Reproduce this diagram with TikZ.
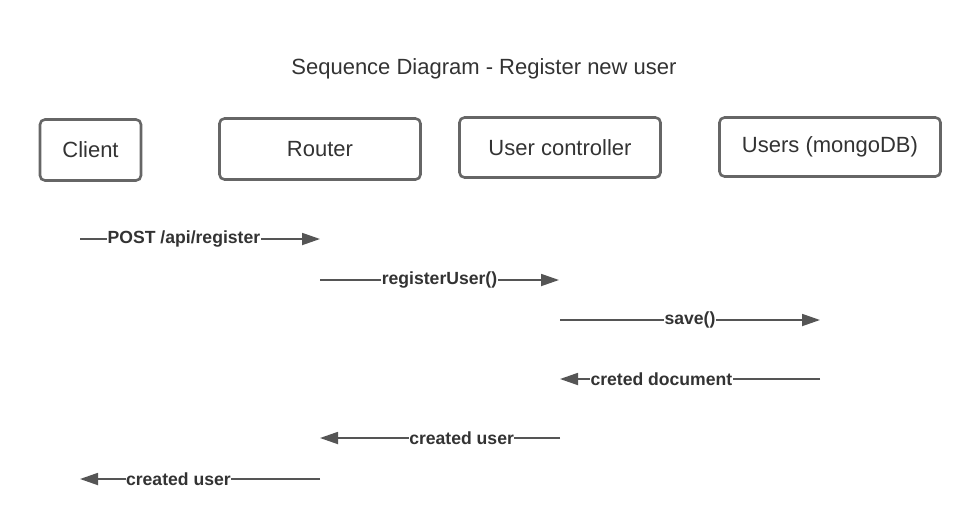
\documentclass[tikz,border=0pt]{standalone}
\usepackage{fontspec}
\setmainfont{Liberation Sans}
\usetikzlibrary{arrows.meta}
\definecolor{boxline}{HTML}{666666}
\definecolor{msgline}{HTML}{555555}
\definecolor{txt}{HTML}{333333}
\tikzset{
  actor/.style={draw=boxline, line width=2.6pt, rounded corners=5pt, fill=white, text=txt,
    font=\fontsize{22}{26}\selectfont, inner sep=0pt},
  msg/.style={draw=msgline, line width=1.8pt, -{Triangle[length=18pt,width=12pt]}},
  lbl/.style={fill=white, text=txt, font=\fontsize{17.6}{20}\selectfont\bfseries, inner sep=0.5pt},
  ttl/.style={text=txt, font=\fontsize{22}{26}\selectfont}
}
\begin{document}
\begin{tikzpicture}[x=1pt,y=-1pt]
\useasboundingbox[fill=white] (0,0) rectangle (980,531);
\node[ttl] (title) at (484,69) {Sequence Diagram - Register new user};
\node[actor, minimum width=101pt, minimum height=61pt] (client) at (90.5,150) {Client};
\node[actor, minimum width=201pt, minimum height=61pt] (router) at (320,149) {Router};
\node[actor, minimum width=201pt, minimum height=60pt] (ctrl) at (560,147.5) {User controller};
\node[actor, minimum width=221pt, minimum height=59pt] (users) at (830,147) {Users (mongoDB)};
% message end points
\coordinate (a1) at (80,239);  \coordinate (b1) at (320,239);
\coordinate (a2) at (320,280); \coordinate (b2) at (559,280);
\coordinate (a3) at (560,320); \coordinate (b3) at (820,320);
\coordinate (a4) at (820,379); \coordinate (b4) at (560,379);
\coordinate (a5) at (560,438); \coordinate (b5) at (320,438);
\coordinate (a6) at (320,479); \coordinate (b6) at (80,479);
\draw[msg] (a1) -- node[lbl, pos=0.433] (l1) {POST /api/register} (b1);
\draw[msg] (a2) -- node[lbl, pos=0.5] (l2) {registerUser()} (b2);
\draw[msg] (a3) -- node[lbl, pos=0.5] (l3) {save()} (b3);
\draw[msg] (a4) -- node[lbl, pos=0.61] (l4) {creted document} (b4);
\draw[msg] (a5) -- node[lbl, pos=0.41] (l5) {created user} (b5);
\draw[msg] (a6) -- node[lbl, pos=0.59] (l6) {created user} (b6);
\end{tikzpicture}
\end{document}
